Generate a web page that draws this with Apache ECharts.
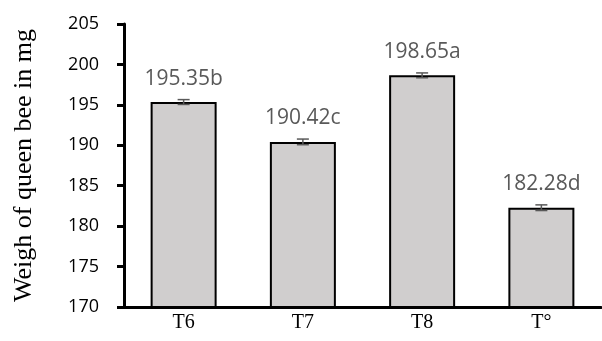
<!DOCTYPE html>
<html>
<head>
<meta charset="utf-8">
<script src="https://cdn.jsdelivr.net/npm/echarts@6/dist/echarts.min.js"></script>
<style>
  html, body { margin: 0; padding: 0; background: #fff; }
  #chart { width: 602px; height: 341px; }
</style>
</head>
<body>
<div id="chart"></div>
<script>
// Treatments and mean queen weight (mg) with standard errors and significance letters
const categories = ['T6', 'T7', 'T8', 'T°'];
const weights = [195.35, 190.42, 198.65, 182.28];
const errors = [0.3, 0.35, 0.3, 0.35];
const letters = ['b', 'c', 'a', 'd'];
const yTicks = { min: 170, max: 205, step: 5 };

const chart = echarts.init(document.getElementById('chart'));

const errorData = categories.map((c, i) => [i, weights[i], errors[i]]);

chart.setOption({
  animation: false,
  grid: { left: 124, right: 1, top: 24, bottom: 34 },
  xAxis: {
    type: 'category',
    data: categories,
    axisLine: { lineStyle: { color: '#000', width: 3 } },
    axisTick: { length: 4, lineStyle: { color: '#000', width: 3 } },
    axisLabel: {
      color: '#000',
      fontFamily: 'Liberation Serif',
      fontSize: 20,
      margin: 6
    }
  },
  yAxis: {
    type: 'value',
    min: yTicks.min,
    max: yTicks.max,
    interval: yTicks.step,
    name: 'Weigh of queen bee in mg',
    nameLocation: 'middle',
    nameGap: 87,
    nameTextStyle: {
      color: '#000',
      fontFamily: 'Liberation Serif',
      fontSize: 26
    },
    splitLine: { show: false },
    axisLine: { show: true, lineStyle: { color: '#000', width: 3 } },
    axisTick: { show: true, length: 7, lineStyle: { color: '#000', width: 3 } },
    axisLabel: {
      color: '#000',
      fontFamily: 'Open Sans',
      fontSize: 18,
      margin: 25
    }
  },
  series: [
    {
      type: 'bar',
      data: weights,
      barWidth: 66,
      itemStyle: { color: '#d0cece', borderColor: '#000', borderWidth: 2 },
      label: {
        show: true,
        position: 'top',
        distance: 13,
        color: '#595959',
        fontFamily: 'Open Sans',
        fontSize: 21,
        formatter: p => weights[p.dataIndex].toFixed(2) + letters[p.dataIndex]
      },
      z: 2
    },
    {
      type: 'custom',
      data: errorData,
      encode: { x: 0, y: 1 },
      z: 3,
      renderItem: function (params, api) {
        const i = api.value(0);
        const v = api.value(1);
        const e = api.value(2);
        const hi = api.coord([i, v + e]);
        const lo = api.coord([i, v - e]);
        const cap = 6;
        const style = { stroke: '#595959', lineWidth: 1.5 };
        return {
          type: 'group',
          children: [
            { type: 'line', shape: { x1: hi[0], y1: hi[1], x2: lo[0], y2: lo[1] }, style },
            { type: 'line', shape: { x1: hi[0] - cap, y1: hi[1], x2: hi[0] + cap, y2: hi[1] }, style },
            { type: 'line', shape: { x1: lo[0] - cap, y1: lo[1], x2: lo[0] + cap, y2: lo[1] }, style }
          ]
        };
      }
    }
  ]
});
</script>
</body>
</html>
